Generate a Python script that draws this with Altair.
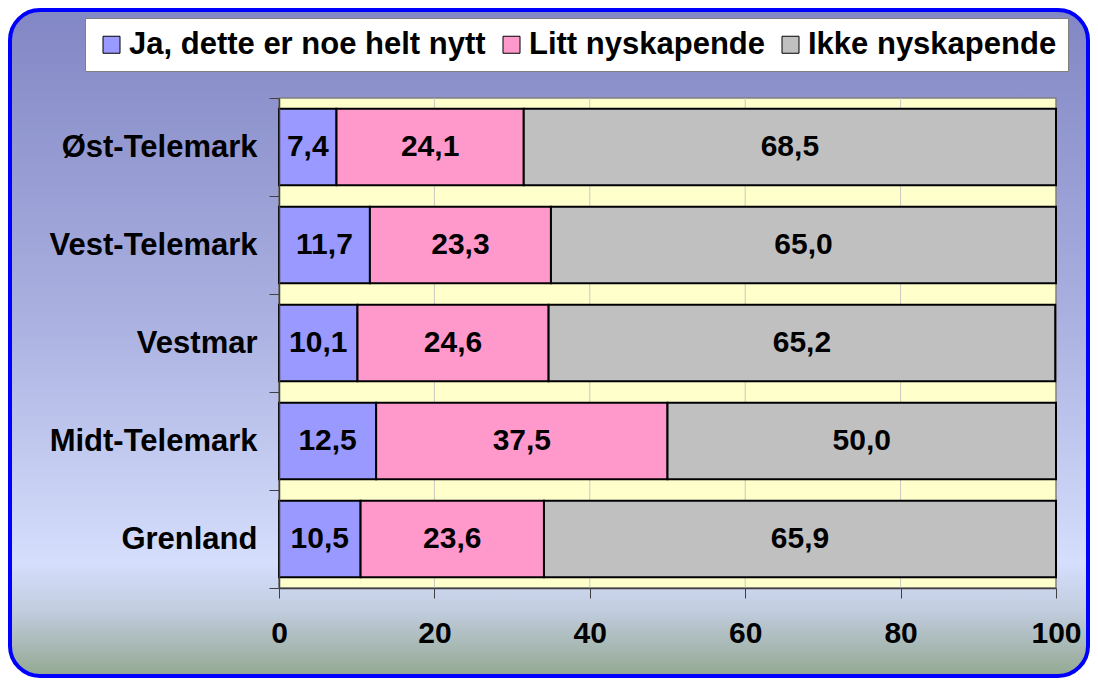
import altair as alt
import pandas as pd

regions = ["Øst-Telemark", "Vest-Telemark", "Vestmar", "Midt-Telemark", "Grenland"]
series = ["Ja, dette er noe helt nytt", "Litt nyskapende", "Ikke nyskapende"]
ja = [7.4, 11.7, 10.1, 12.5, 10.5]
litt = [24.1, 23.3, 24.6, 37.5, 23.6]
ikke = [68.5, 65.0, 65.2, 50.0, 65.9]
x_ticks = [0, 20, 40, 60, 80, 100]
grid_values = [20, 40, 60, 80]
colors = ["#9999FF", "#FF99CC", "#C0C0C0"]

rows = []
for i, r in enumerate(regions):
    for j, (s, vals) in enumerate(zip(series, [ja, litt, ikke])):
        v = vals[i]
        rows.append({"region": r, "series": s, "order": j, "value": v,
                     "label": f"{v:.1f}".replace(".", ",")})
df = pd.DataFrame(rows)

FONT = "Liberation Sans"
W, H = 777, 490
PL, PT, PR, PB = 271, 90, 34, 90

xscale = alt.Scale(domain=[0, 100], nice=False, zero=True)
yscale = alt.Scale(domain=regions, paddingInner=0, paddingOuter=0)

xaxis = alt.Axis(values=x_ticks, title=None, grid=False, zindex=1,
                 labelFont=FONT, labelFontSize=30, labelFontWeight="bold",
                 labelColor="black", labelPadding=20, tickSize=10,
                 labelFlush=False, labelOverlap=False,
                 tickColor="#404040", domainColor="#404040", domainWidth=1.5)
yaxis = alt.Axis(title=None, tickBand="extent", zindex=1, labelFont=FONT,
                 labelFontSize=31, labelFontWeight="bold", labelColor="black",
                 labelPadding=12, tickSize=10, tickColor="#404040",
                 domainColor="#404040", domainWidth=1.5, labelLimit=400)

bg = alt.Chart(alt.Data(values=[{}])).mark_rect(
    fill=alt.Gradient(
        gradient="linear", x1=0, x2=0, y1=0, y2=1,
        stops=[
            alt.GradientStop(offset=0, color="#8287c5"),
            alt.GradientStop(offset=0.45, color="#a9afdf"),
            alt.GradientStop(offset=0.83, color="#d5defc"),
            alt.GradientStop(offset=0.9, color="#c2cde0"),
            alt.GradientStop(offset=1, color="#93a891"),
        ],
    ),
    stroke="#0000FF", strokeWidth=4, cornerRadius=30,
).encode(
    x=alt.value(-PL + 2), x2=alt.value(W + PR - 2),
    y=alt.value(-PT + 2), y2=alt.value(H + PB - 2),
)

plotbg = alt.Chart(alt.Data(values=[{}])).mark_rect(
    fill="#FFFFCC", stroke="#808080", strokeWidth=1.5,
).encode(x=alt.value(0), x2=alt.value(W), y=alt.value(0), y2=alt.value(H))

grid = alt.Chart(pd.DataFrame({"g": grid_values})).mark_rule(
    color="#c8c8c0", strokeWidth=1
).encode(
    x=alt.X("g:Q", scale=xscale, axis=xaxis),
    y=alt.value(0), y2=alt.value(H),
)

base = alt.Chart(df).transform_stack(
    stack="value", groupby=["region"], as_=["x0", "x1"],
    sort=[alt.SortField("order", order="ascending")],
).transform_calculate(mid="(datum.x0 + datum.x1) / 2")

bars = base.mark_bar(stroke="black", strokeWidth=2,
                     height=alt.RelativeBandSize(band=0.78)).encode(
    x=alt.X("x0:Q", scale=xscale, axis=xaxis),
    x2="x1:Q",
    y=alt.Y("region:N", scale=yscale, sort=regions, axis=yaxis),
    fill=alt.Fill("series:N", scale=alt.Scale(domain=series, range=colors),
                  legend=alt.Legend(
                      title=None, orient="none", legendX=-194, legendY=-80,
                      direction="horizontal", fillColor="white", strokeColor="#808080",
                      padding=11, symbolType="square", symbolSize=289,
                      symbolStrokeColor="black", symbolStrokeWidth=1,
                      labelFont=FONT, labelFontSize=31, labelFontWeight="bold",
                      labelColor="black", labelOffset=2, columnPadding=10,
                      labelLimit=600)),
    order=alt.Order("order:Q"),
)

texts = base.mark_text(font=FONT, fontSize=30, fontWeight="bold", color="black",
                       align="center", baseline="middle").encode(
    x=alt.X("mid:Q", scale=xscale, axis=xaxis),
    y=alt.Y("region:N", scale=yscale, sort=regions, axis=yaxis),
    text="label:N",
)

chart = alt.layer(bg, plotbg, grid, bars, texts).properties(
    width=W, height=H,
    padding={"left": PL, "top": PT, "right": PR, "bottom": PB},
    autosize=alt.AutoSizeParams(type="none"),
).configure_view(strokeWidth=0).configure(background="white")

chart.save("out.html", embed_options={"renderer": "svg", "actions": False})
